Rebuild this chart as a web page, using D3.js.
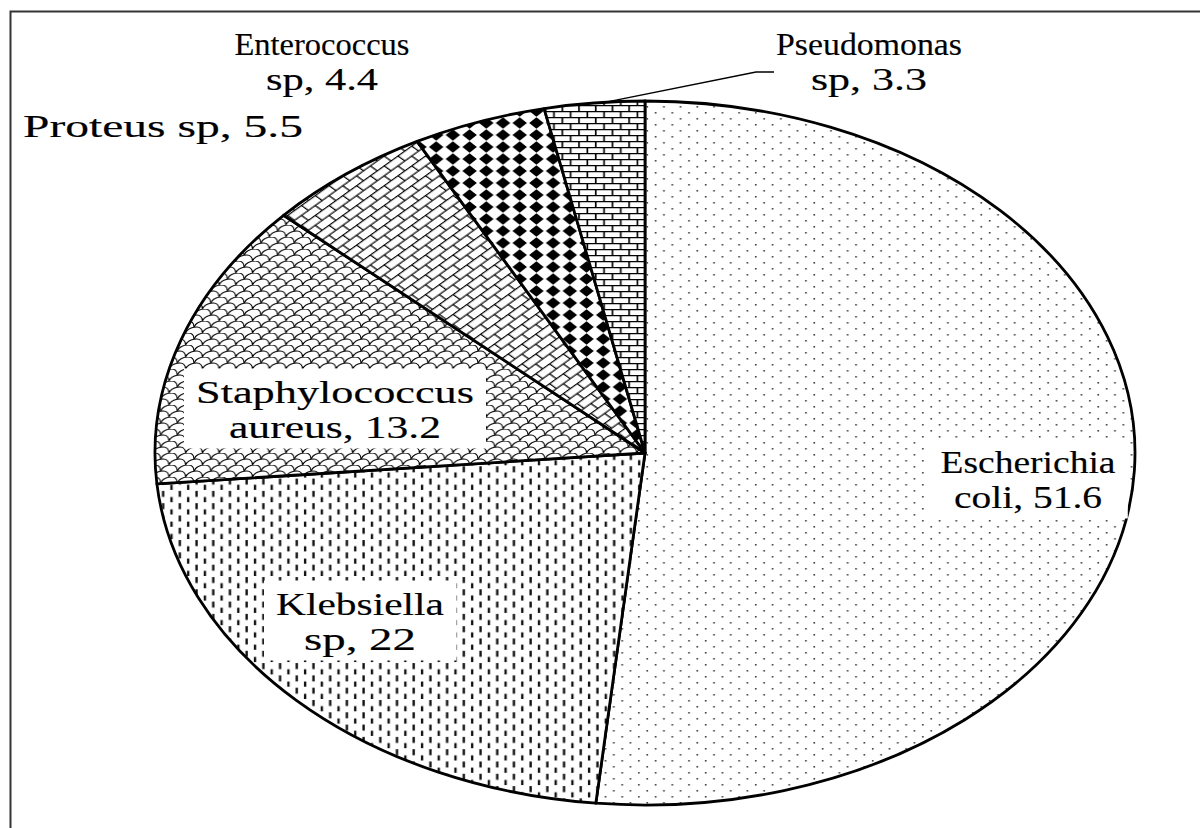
<!DOCTYPE html>
<html>
<head>
<meta charset="utf-8">
<script src="https://cdn.jsdelivr.net/npm/d3@7"></script>
<style>
  html, body { margin: 0; padding: 0; background: #fff; }
  svg { display: block; }
  .lbl { font-family: "Liberation Serif", "Times New Roman", serif; font-size: 31px; fill: #000; stroke: #000; stroke-width: 0.15px; }
</style>
</head>
<body>
<svg id="chart" width="1200" height="828"></svg>
<script>
// data (percent of isolates)
var categories = ["Escherichia coli", "Klebsiella sp", "Staphylococcus aureus", "Proteus sp", "Enterococcus sp", "Pseudomonas sp"];
var values = [51.6, 22, 13.2, 5.5, 4.4, 3.3];
var patternIds = ["dots", "dashes", "shingle", "diagbrick", "diamond", "brick"];

// layout
var cx = 645, cy = 453, rx = 490, ry = 352;
var stretch = rx / ry;
var wrapLabel = [true, true, true, false, true, true];
var labelBoxed = [true, true, true, false, false, false];
var labelCenter = [[1028, 480], [360, 622], [335, 410], [163, 127], [322, 62], [869, 62]];
var lineWidths = [[175, 148], [168, 112], [278, 212], [280], [175, 112], [186, 116]];
var lineH = 35;

var svg = d3.select("#chart");
var defs = svg.append("defs");

// patterns are drawn in the un-stretched space, the pie group stretches them
function pat(id, w, h) {
  var pp = defs.append("pattern").attr("id", id)
    .attr("patternUnits", "userSpaceOnUse").attr("width", w).attr("height", h);
  pp.append("rect").attr("width", w).attr("height", h).attr("fill", "#fff");
  return pp;
}
var p;
p = pat("dots", 12, 12);
p.append("rect").attr("x", 1).attr("y", 1).attr("width", 1.2).attr("height", 1.6).attr("fill", "#444");
p.append("rect").attr("x", 7).attr("y", 7).attr("width", 1.2).attr("height", 1.6).attr("fill", "#444");

p = pat("dashes", 12, 12.3);
p.append("rect").attr("x", 1).attr("y", 1).attr("width", 1.7).attr("height", 6).attr("fill", "#111");
p.append("rect").attr("x", 7).attr("y", 7.15).attr("width", 1.7).attr("height", 6).attr("fill", "#111");

// slanted fish-scale shingles, rows offset by half a tile
p = pat("shingle", 12, 12);
p.append("path")
  .attr("d", "M0,6 C1.5,1.5 5,0 8,0 C10.5,0 12,2.5 12,6" +
             " M-6,12 C-4.5,7.5 -1,6 2,6 C4.5,6 6,8.5 6,12" +
             " M6,12 C7.5,7.5 11,6 14,6 C16.5,6 18,8.5 18,12" +
             " M-6,0 C-4.5,-4.5 -1,-6 2,-6 C4.5,-6 6,-3.5 6,0" +
             " M6,0 C7.5,-4.5 11,-6 14,-6 C16.5,-6 18,-3.5 18,0")
  .attr("fill", "none").attr("stroke", "#000").attr("stroke-width", 0.9);

p = pat("diagbrick", 14, 14).attr("patternTransform", "rotate(-45)");
p.append("path").attr("d", "M0,0.5 H14 M0,7.5 H14 M0.5,0.5 V7.5 M7.5,7.5 V14")
  .attr("fill", "none").attr("stroke", "#000").attr("stroke-width", 1.1);

p = pat("diamond", 12, 12);
p.append("path").attr("d", "M6,0.3 L11.2,6 L6,11.7 L0.8,6 Z").attr("fill", "#000");

p = pat("brick", 12, 12);
p.append("path").attr("d", "M0,0.6 H12 M0,6.6 H12 M0.6,0.6 V6.6 M6.6,6.6 V12.6")
  .attr("fill", "none").attr("stroke", "#000").attr("stroke-width", 1.2);

// outer frame (right and bottom run off the picture)
svg.append("rect").attr("x", 10.5).attr("y", 11.5).attr("width", 1200).attr("height", 840)
  .attr("fill", "none").attr("stroke", "#333").attr("stroke-width", 2);

var pie = d3.pie().sort(null).value(function (d) { return d; });
var arcs = pie(values);
var arc = d3.arc().innerRadius(0).outerRadius(ry);

var pieG = svg.append("g").attr("transform", "translate(" + cx + "," + cy + ") scale(" + stretch + ",1)");
pieG.selectAll("path.slice").data(arcs).enter().append("path")
  .attr("class", "slice")
  .attr("d", arc)
  .attr("fill", function (d, i) { return "url(#" + patternIds[i] + ")"; })
  .attr("stroke", "#000").attr("stroke-width", 2.8)
  .attr("stroke-linejoin", "round")
  .attr("vector-effect", "non-scaling-stroke");

// labels
var labG = svg.append("g");
arcs.forEach(function (d, i) {
  var lines = [categories[i] + ", " + values[i]];
  if (wrapLabel[i]) {
    var k = categories[i].indexOf(" ");
    lines = [categories[i].slice(0, k), categories[i].slice(k + 1) + ", " + values[i]];
  }
  var g = labG.append("g");
  var c = labelCenter[i];
  lines.forEach(function (s, j) {
    var w = lineWidths[i][j];
    g.append("text").attr("class", "lbl")
      .attr("x", c[0] - w / 2)
      .attr("y", c[1] + 10 + (j - (lines.length - 1) / 2) * lineH)
      .attr("textLength", w).attr("lengthAdjust", "spacingAndGlyphs")
      .text(s);
  });
  var bb = g.node().getBBox();
  if (labelBoxed[i]) {
    g.insert("rect", "text")
      .attr("x", bb.x - 12).attr("y", bb.y - 6)
      .attr("width", bb.width + 24).attr("height", bb.height + 10)
      .attr("fill", "#fff");
  }
  if (i === patternIds.length - 1) {
    // leader line from slice edge to label
    var a = (d.startAngle + d.endAngle) / 2;
    var sx = cx + rx * Math.sin(a) + 8, sy = cy - ry * Math.cos(a);
    var ex = bb.x - 2, ey = c[1] + 10;
    labG.append("path")
      .attr("d", "M" + sx + "," + sy + " L" + (ex - 18) + "," + ey + " H" + ex)
      .attr("fill", "none").attr("stroke", "#000").attr("stroke-width", 1.4);
  }
});
</script>
</body>
</html>
